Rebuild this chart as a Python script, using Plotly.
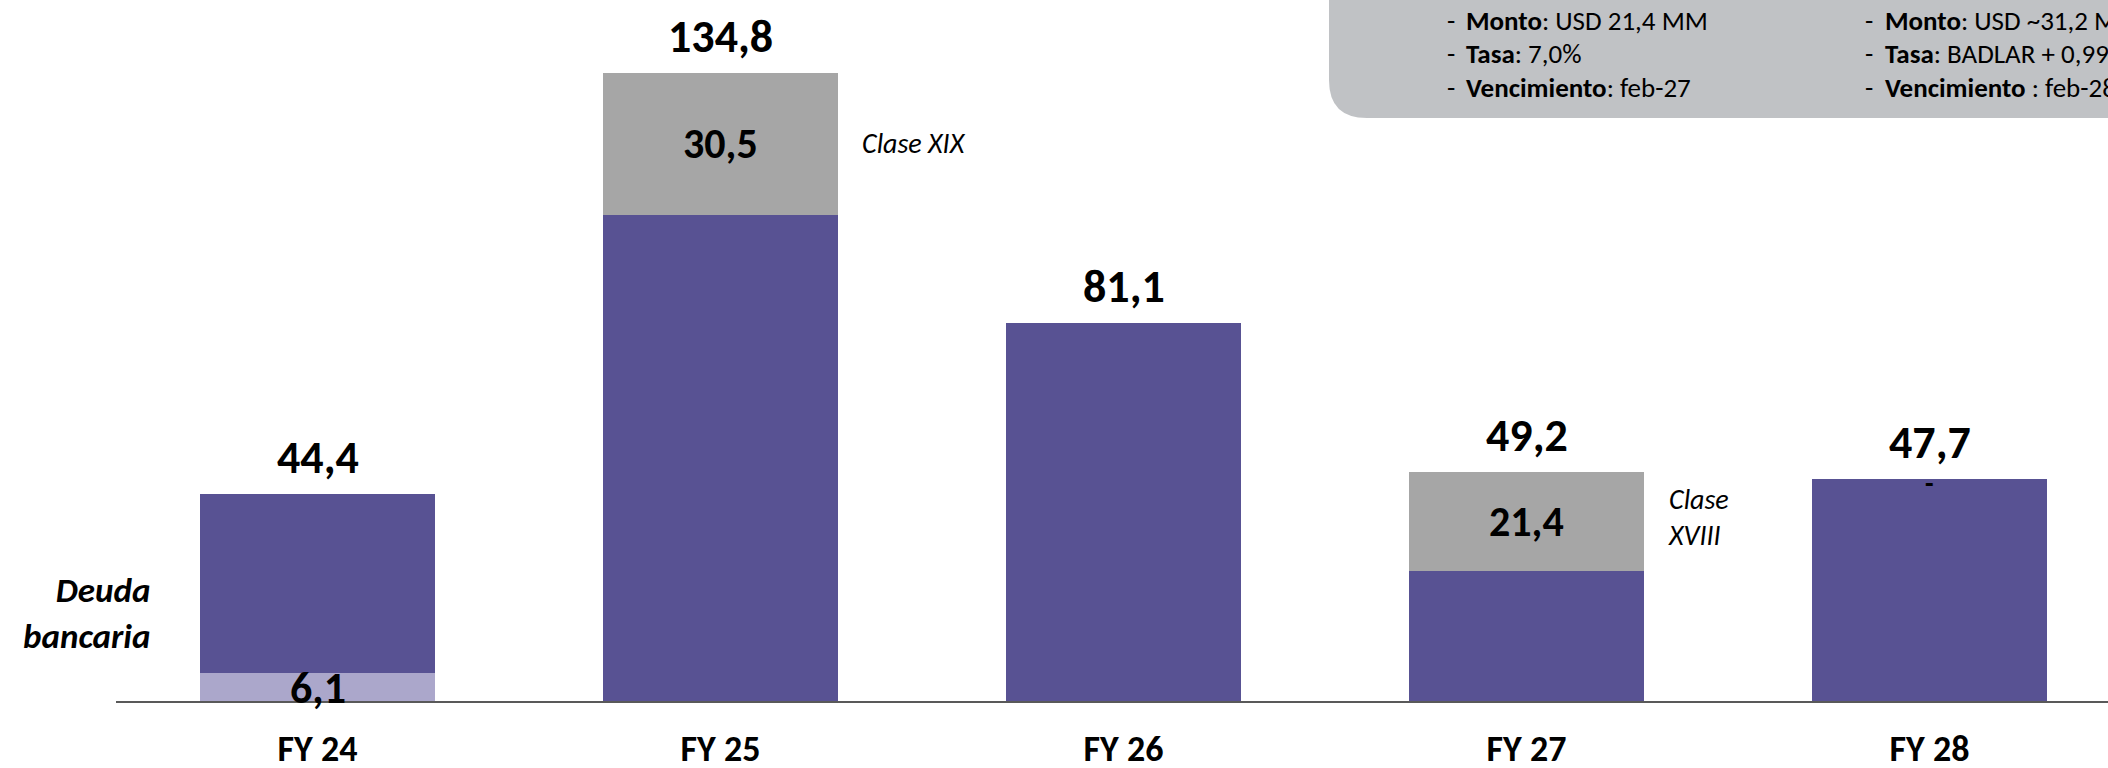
import plotly.graph_objects as go

# ---------------- data ----------------
categories = ["FY 24", "FY 25", "FY 26", "FY 27", "FY 28"]
deuda_corto = [6.1, 0, 0, 0, 0]              # light purple segment
deuda_bancaria = [38.3, 104.3, 81.1, 27.8, 47.7]  # purple segment
obligaciones = [0, 30.5, 0, 21.4, 0]         # grey segment (ON)
totales = [44.4, 134.8, 81.1, 49.2, 47.7]
etiquetas_total = ["44,4", "134,8", "81,1", "49,2", "47,7"]
etiquetas_on = ["", "30,5", "", "21,4", "-"]
etiqueta_corto = ["6,1", "", "", "", ""]
clase_labels = {1: "Clase XIX", 3: "Clase<br>XVIII"}

box_col1 = [("Monto", ": USD 21,4 MM"), ("Tasa", ": 7,0%"), ("Vencimiento", ": feb-27")]
box_col2 = [("Monto", ": USD ~31,2 MM"), ("Tasa", ": BADLAR + 0,99%"), ("Vencimiento", " : feb-28")]

# ---------------- style / layout ----------------
W, H = 2108, 768
L, R, T, B = 116, 0, 0, 67
PW, PH = W - L - R, H - T - B
STEP = 403.0          # px per category
PXU = 4.66            # px per unit
FONT = "Carlito, Lato, sans-serif"
PURPLE = "#585293"
LIGHT = "#ABA7CB"
GREY = "#A6A6A6"
BOX = "#C0C2C5"

def px_x(x):
    return (x - L) / PW

def px_y(y):
    return (H - B - y) / PH

fig = go.Figure()
fig.add_bar(x=categories, y=deuda_corto, marker=dict(color=LIGHT, line=dict(width=0)), width=0.583)
fig.add_bar(x=categories, y=deuda_bancaria, marker=dict(color=PURPLE, line=dict(width=0)), width=0.583)
fig.add_bar(x=categories, y=obligaciones, marker=dict(color=GREY, line=dict(width=0)), width=0.583)

ann = []
for i, c in enumerate(categories):
    ann.append(dict(x=i, y=totales[i], xref="x", yref="y", text=f"<b>{etiquetas_total[i]}</b>",
                    showarrow=False, yanchor="middle", yshift=37,
                    font=dict(family=FONT, size=46, color="black")))
    if etiquetas_on[i] == "-":
        ann.append(dict(x=i, y=deuda_bancaria[i] + obligaciones[i], xref="x", yref="y",
                        text="<b>-</b>", showarrow=False, yanchor="middle", yshift=-5,
                        font=dict(family=FONT, size=28, color="black")))
    elif etiquetas_on[i]:
        ann.append(dict(x=i, y=deuda_corto[i] + deuda_bancaria[i] + obligaciones[i] / 2, xref="x", yref="y",
                        text=f"<b>{etiquetas_on[i]}</b>", showarrow=False, yanchor="middle",
                        font=dict(family=FONT, size=42, color="black")))
    if etiqueta_corto[i]:
        ann.append(dict(x=i, y=deuda_corto[i] / 2, xref="x", yref="y",
                        text=f"<b>{etiqueta_corto[i]}</b>", showarrow=False, yanchor="middle", yshift=-1,
                        font=dict(family=FONT, size=44, color="black")))
for i, t in clase_labels.items():
    ann.append(dict(x=i + 0.345, y=deuda_bancaria[i] + obligaciones[i] / 2, xref="x", yref="y",
                    text=f"<i>{t}</i>", showarrow=False, xanchor="left", yanchor="middle", align="left",
                    yshift=4 if "<br>" in t else 0,
                    font=dict(family=FONT, size=28, color="black")))

ann.append(dict(x=px_x(152), y=px_y(613), xref="paper", yref="paper",
                text="<b><i>Deuda<br>bancaria</i></b>", showarrow=False, xanchor="right",
                yanchor="middle", align="right", font=dict(family=FONT, size=35, color="black")))

rows_y = [20, 54, 88]
for col, (dx, tx) in ((box_col1, (1445, 1464)), (box_col2, (1863, 1883))):
    for (k, v), yy in zip(col, rows_y):
        ann.append(dict(x=px_x(dx), y=px_y(yy), xref="paper", yref="paper", text="-",
                        showarrow=False, xanchor="left", yanchor="middle",
                        font=dict(family=FONT, size=27, color="black")))
        ann.append(dict(x=px_x(tx), y=px_y(yy), xref="paper", yref="paper",
                        text=f"<b>{k}</b>{v}", showarrow=False, xanchor="left", yanchor="middle",
                        font=dict(family=FONT, size=27, color="black")))

# rounded grey box (top-right)
bx0, by1, rad = 1329, 118, 38
x0, x1 = px_x(bx0), px_x(W + 10)
ytop, ybot = px_y(-10), px_y(by1)
rx, ry = rad / PW, rad / PH
path = (f"M {x0} {ytop} L {x0} {ybot + ry} Q {x0} {ybot} {x0 + rx} {ybot} "
        f"L {x1} {ybot} L {x1} {ytop} Z")

fig.update_layout(
    width=W, height=H,
    margin=dict(l=L, r=R, t=T, b=B, pad=0, autoexpand=False),
    barmode="stack", showlegend=False,
    paper_bgcolor="white", plot_bgcolor="white",
    annotations=ann,
    shapes=[dict(type="path", path=path, xref="paper", yref="paper",
                 fillcolor=BOX, line=dict(width=0), layer="above")],
    xaxis=dict(range=[-0.5, -0.5 + PW / STEP], showgrid=False, zeroline=False,
               showline=True, linecolor="#595959", linewidth=2, automargin=False,
               ticks="", ticklabelstandoff=15,
               tickfont=dict(family=FONT, size=36, color="black", weight="bold")),
    yaxis=dict(range=[0, PH / PXU], visible=False, showgrid=False, zeroline=False,
               automargin=False),
)

fig.write_html("out.html")
